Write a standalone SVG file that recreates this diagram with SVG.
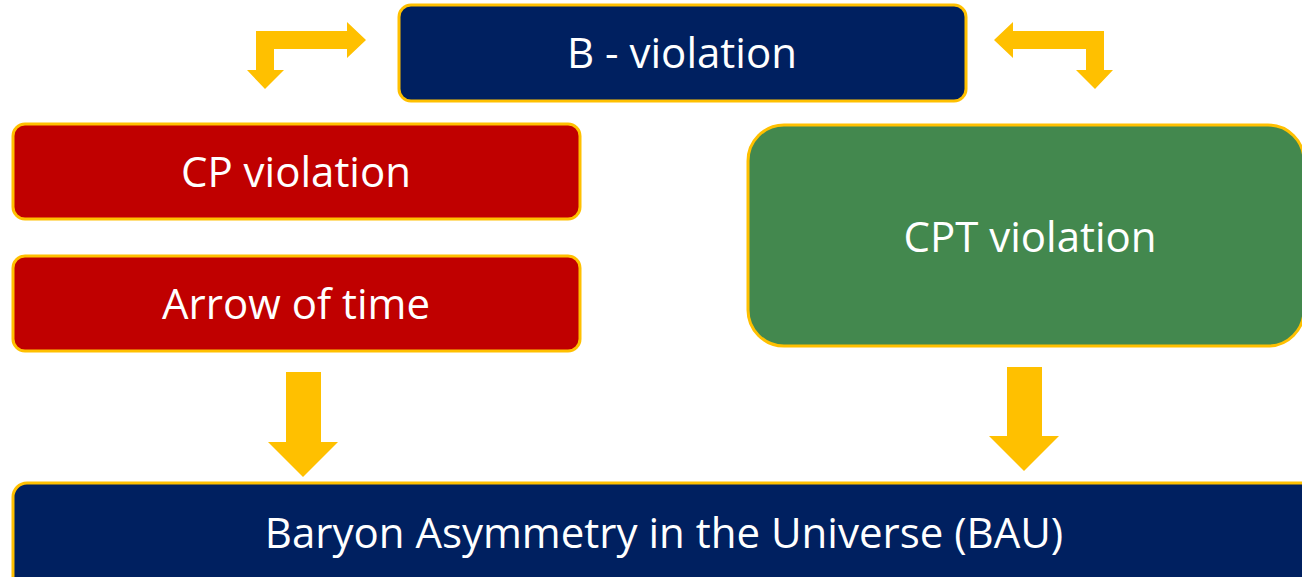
<svg xmlns="http://www.w3.org/2000/svg" width="1302" height="577" viewBox="0 0 1302 577">
  <style>
    .box { stroke: #FFC000; stroke-width: 3; }
    .navy { fill: #002060; }
    .red { fill: #C00000; }
    .green { fill: #43884E; }
    .label { font-family: "Open Sans", "Liberation Sans", sans-serif; font-size: 42px; fill: #FFFFFF; text-anchor: middle; }
    .arrow { fill: #FFC000; }
  </style>
  <rect width="1302" height="577" fill="#FFFFFF"/>

  <g id="connectors">
    <path class="arrow" d="M256,31 L347,31 L347,22 L366,40 L347,58 L347,49 L274,49 L274,70 L284,70 L265,89 L247,70 L256,70 Z"/>
    <path class="arrow" d="M994,40 L1013,22 L1013,31 L1104,31 L1104,70 L1113,70 L1095,89 L1076,70 L1086,70 L1086,49 L1013,49 L1013,58 Z"/>
    <path class="arrow" d="M286,372 L321,372 L321,442 L338,442 L303,477 L268,442 L286,442 Z"/>
    <path class="arrow" d="M1007,367 L1042,367 L1042,436 L1059,436 L1024,471 L989,436 L1007,436 Z"/>
  </g>

  <g id="b-violation">
    <rect class="box navy" x="399" y="5" width="567" height="96" rx="12"/>
    <text class="label" x="682" y="68">B - violation</text>
  </g>

  <g id="cp-violation">
    <rect class="box red" x="13" y="124" width="567" height="95" rx="12"/>
    <text class="label" x="296" y="187">CP violation</text>
  </g>

  <g id="arrow-of-time">
    <rect class="box red" x="13" y="256" width="567" height="95" rx="12"/>
    <text class="label" x="296" y="319">Arrow of time</text>
  </g>

  <g id="cpt-violation">
    <rect class="box green" x="748" y="125" width="556" height="221" rx="36"/>
    <text class="label" x="1030" y="252">CPT violation</text>
  </g>

  <g id="bau">
    <rect class="box navy" x="13" y="483" width="1310" height="120" rx="14"/>
    <text class="label" x="664" y="548">Baryon Asymmetry in the Universe (BAU)</text>
  </g>
</svg>
